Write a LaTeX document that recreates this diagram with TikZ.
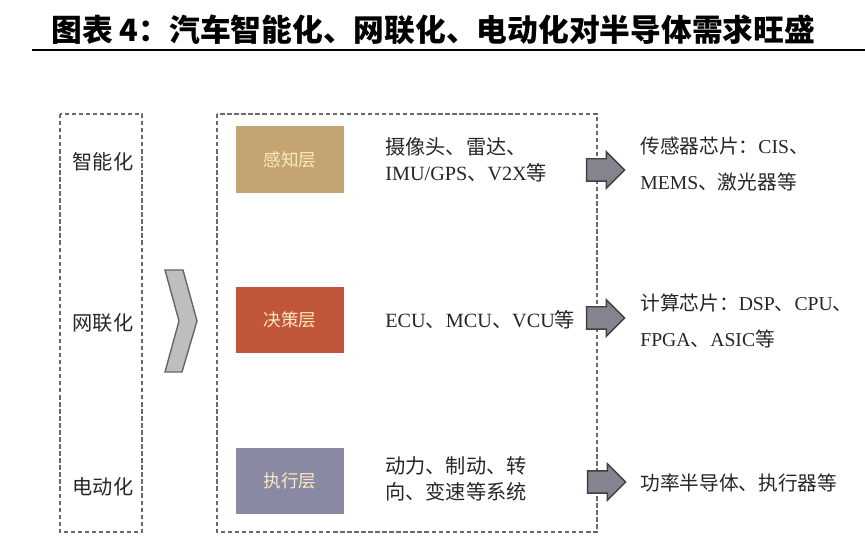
\documentclass[tikz,border=0pt]{standalone}
\usepackage{fontspec}
\setmainfont{Liberation Serif}
\newfontfamily\cjk{Noto Sans CJK SC}
\usetikzlibrary{shapes.arrows}
\definecolor{perceive}{RGB}{196,164,114}
\definecolor{decide}{RGB}{194,86,58}
\definecolor{execute}{RGB}{138,137,163}
\definecolor{layertext}{RGB}{250,234,190}
\definecolor{dashgray}{RGB}{105,105,105}
\definecolor{arrowgray}{RGB}{132,132,142}
\definecolor{chevgray}{RGB}{190,190,192}
\newcommand{\zh}[1]{{\cjk #1}}
\begin{document}
\begin{tikzpicture}[x=0.02cm, y=-0.02cm,
        every node/.style={inner sep=0pt, text=black!85, font=\fontsize{11.5}{15}\selectfont},
        layer/.style={minimum width=2.18cm, minimum height=1.34cm, text=layertext, font=\cjk\fontsize{10}{12}\selectfont},
        trend/.style={font=\cjk\fontsize{11.5}{14}\selectfont},
        desc/.style={anchor=west, align=left},
        chip/.style={desc, font=\fontsize{11.2}{21}\selectfont},
        blockarrow/.style={single arrow, draw=black!75, fill=arrowgray, line width=0.8pt, minimum height=0.76cm, inner xsep=0pt, inner ysep=0.21cm, single arrow head extend=0.14cm},
        frame/.style={draw=dashgray, dashed, line width=0.6pt, dash pattern=on 2.5pt off 1.5pt}
      ]
        \useasboundingbox (0,0) rectangle (865,546);
        \node[anchor=west, font=\cjk\bfseries\fontsize{17.5}{20}\selectfont, text=black] (title) at (51,30) {图表 4：汽车智能化、网联化、电动化对半导体需求旺盛};
        \draw[line width=1.6pt] (32,50) -- (865,50);

        \draw[frame] (60,114) rectangle (142,532);
        \draw[frame] (217,114) rectangle (597,532);

        \node[trend] (smart) at (103,162) {智能化};
        \node[trend] (connect) at (103,323) {网联化};
        \node[trend] (electric) at (103,487) {电动化};

        \draw[draw=black!60, fill=chevgray, line width=0.8pt] (165,270) -- (183,270) -- (197,321) -- (182,372) -- (165,372) -- (179,321) -- cycle;

        \node[layer, fill=perceive] (sense) at (290,160) {感知层};
        \node[layer, fill=decide] (decision) at (290,320) {决策层};
        \node[layer, fill=execute] (action) at (290,481) {执行层};

        \node[desc] (sensedesc) at (385,160) {\zh{摄像头、雷达、}\\IMU/GPS\zh{、}V2X\zh{等}};
        \node[desc] (decisiondesc) at (385,320) {ECU\zh{、}MCU\zh{、}VCU\zh{等}};
        \node[desc] (actiondesc) at (385,479) {\zh{动力、制动、转}\\\zh{向、变速等系统}};

        \node[blockarrow] (sensearrow) at (600,170) {};
        \node[blockarrow] (decisionarrow) at (600,318) {};
        \node[blockarrow] (actionarrow) at (601,482) {};

        \node[chip] (sensechip) at (640,164) {\zh{传感器芯片：}CIS\zh{、}\\MEMS\zh{、激光器等}};
        \node[chip] (computechip) at (640,321) {\zh{计算芯片：}DSP\zh{、}CPU\zh{、}\\FPGA\zh{、}ASIC\zh{等}};
        \node[chip] (powerchip) at (640,483) {\zh{功率半导体、执行器等}};
      \end{tikzpicture}
\end{document}
